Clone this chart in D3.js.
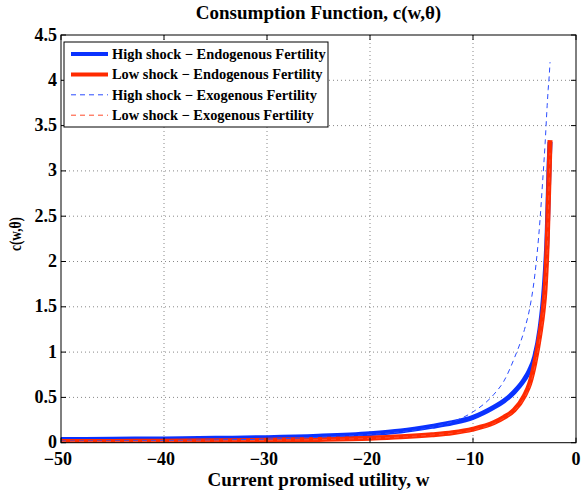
<!DOCTYPE html>
<html><head><meta charset="utf-8">
<script src="https://cdn.jsdelivr.net/npm/d3@7"></script>
<style>body{margin:0;background:#fff}text{font-family:"Liberation Serif","Times New Roman",serif;font-weight:bold}</style>
</head><body>
<svg id="c" width="584" height="494"></svg>
<script>
const wGrid = [-50,-45,-40,-35,-30,-25,-20,-17,-14,-12,-10,-8,-7,-6,-5,-4.5,-4,-3.5,-3.2,-3.0,-2.8,-2.7,-2.6,-2.52];
const highEndo = [0.035,0.038,0.042,0.048,0.056,0.072,0.10,0.13,0.18,0.22,0.28,0.39,0.46,0.56,0.70,0.80,0.95,1.25,1.55,1.85,2.3,2.7,3.1,3.32];
const lowEndo  = [0.012,0.014,0.017,0.021,0.027,0.036,0.05,0.065,0.088,0.11,0.15,0.22,0.28,0.36,0.52,0.65,0.88,1.2,1.45,1.7,2.2,2.6,3.0,3.34];
const highExo  = [0.018,0.02,0.024,0.03,0.04,0.06,0.09,0.12,0.17,0.23,0.34,0.53,0.68,0.93,1.25,1.48,1.85,2.45,2.95,3.3,3.72,3.9,4.05,4.2];
const lowExo   = [0.011,0.013,0.016,0.02,0.026,0.034,0.048,0.062,0.085,0.105,0.14,0.21,0.27,0.35,0.5,0.62,0.84,1.15,1.4,1.65,2.1,2.5,2.9,3.2];
const xTicks = [-50,-40,-30,-20,-10,0];
const yTicks = [0,0.5,1,1.5,2,2.5,3,3.5,4,4.5];
const seriesNames = ["High shock \u2212 Endogenous Fertility","Low shock \u2212 Endogenous Fertility","High shock \u2212 Exogenous Fertility","Low shock \u2212 Exogenous Fertility"];
const seriesVals = [highEndo, lowEndo, highExo, lowExo];
const colors = ["#0a32ff","#ff2a00","#2a4cff","#ff4a2a"];
const widths = [5,5,1,1];
const dashes = [null,null,"5,4","5,4"];

const svg = d3.select("#c");
const L=61,R=576,T=35,B=442.7;
const x = d3.scaleLinear().domain([-50,0]).range([L,R]);
const y = d3.scaleLinear().domain([0,4.5]).range([B,T]);

// grid
const g = svg.append("g");
g.selectAll(".gx").data(xTicks.slice(1,-1)).enter().append("line")
 .attr("x1",d=>x(d)).attr("x2",d=>x(d)).attr("y1",T).attr("y2",B)
 .attr("stroke","#888").attr("stroke-width",1).attr("stroke-dasharray","1,3");
g.selectAll(".gy").data(yTicks.slice(1,-1)).enter().append("line")
 .attr("y1",d=>y(d)).attr("y2",d=>y(d)).attr("x1",L).attr("x2",R)
 .attr("stroke","#888").attr("stroke-width",1).attr("stroke-dasharray","1,3");

// lines
const line = d3.line().x(d=>x(d[0])).y(d=>y(d[1])).curve(d3.curveMonotoneX);
svg.append("clipPath").attr("id","cp").append("rect").attr("x",L).attr("y",T-20).attr("width",R-L).attr("height",B-T+20);
seriesVals.forEach((vals,i)=>{
  svg.append("path").datum(wGrid.map((w,j)=>[w,vals[j]]))
   .attr("d",line).attr("fill","none").attr("stroke",colors[i]).attr("stroke-width",widths[i])
   .attr("stroke-dasharray",dashes[i]).attr("clip-path","url(#cp)");
});

// box
svg.append("rect").attr("x",L).attr("y",T).attr("width",R-L).attr("height",B-T).attr("fill","none").attr("stroke","#000").attr("stroke-width",1);

// ticks
const tl=5;
xTicks.forEach(d=>{
  svg.append("line").attr("x1",x(d)).attr("x2",x(d)).attr("y1",B).attr("y2",B-tl).attr("stroke","#000");
  svg.append("line").attr("x1",x(d)).attr("x2",x(d)).attr("y1",T).attr("y2",T+tl).attr("stroke","#000");
});
yTicks.forEach(d=>{
  svg.append("line").attr("y1",y(d)).attr("y2",y(d)).attr("x1",L).attr("x2",L+tl).attr("stroke","#000");
  svg.append("line").attr("y1",y(d)).attr("y2",y(d)).attr("x1",R).attr("x2",R-tl).attr("stroke","#000");
});
const fmt = d=> (d<0?"\u2212":"")+Math.abs(d);
svg.selectAll(".xl").data(xTicks).enter().append("text")
 .attr("x",d=>x(d)-(d<0?3:0)).attr("y",B+22.5).attr("text-anchor","middle").attr("font-size",18).text(fmt);
svg.selectAll(".yl").data(yTicks).enter().append("text")
 .attr("x",L-4).attr("y",d=>y(d)+5.5).attr("text-anchor","end").attr("font-size",18).text(d=>String(d));

// labels
svg.append("text").attr("x",(L+R)/2).attr("y",19).attr("text-anchor","middle").attr("font-size",19).text("Consumption Function, c(w,\u03b8)");
svg.append("text").attr("x",(L+R)/2).attr("y",486).attr("text-anchor","middle").attr("font-size",19).text("Current promised utility, w");
svg.append("text").attr("transform","translate(21,234) rotate(-90)").attr("text-anchor","middle").attr("font-size",16)
 .attr("textLength",34).attr("lengthAdjust","spacingAndGlyphs").text("c(w,\u03b8)");

// legend
const lg = svg.append("g");
lg.append("rect").attr("x",64).attr("y",42).attr("width",264).attr("height",85).attr("fill","#fff").attr("stroke","#000").attr("stroke-width",1);
seriesNames.forEach((n,i)=>{
  const yy = 54 + i*20.4;
  lg.append("line").attr("x1",71).attr("x2",108).attr("y1",yy).attr("y2",yy)
   .attr("stroke",colors[i]).attr("stroke-width",i<2?4:1).attr("stroke-dasharray",dashes[i]);
  lg.append("text").attr("x",112).attr("y",yy+5).attr("font-size",14.4).text(n);
});
</script>
</body></html>
